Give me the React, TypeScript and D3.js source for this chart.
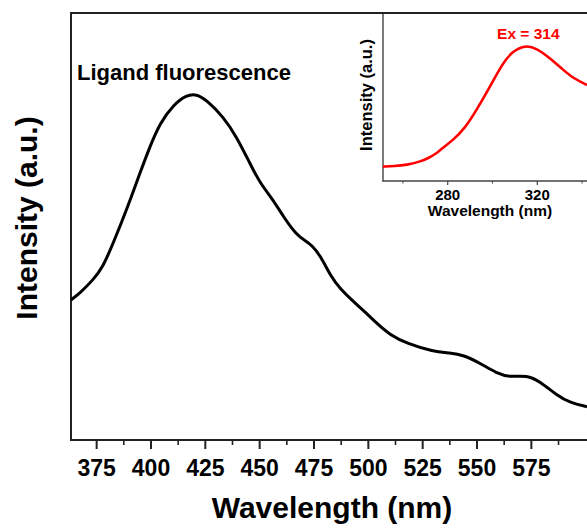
import React from "react";
import * as d3 from "d3";

// Main spectrum: ligand fluorescence (wavelength nm, intensity a.u.)
const mainWavelength = [363.2, 367.3, 373.4, 378.0, 382.6, 388.8, 394.9, 399.5, 404.1, 410.3, 416.4, 421.0, 425.6, 433.3, 439.4, 445.5, 450.2, 456.3, 460.9, 467.0, 471.2, 474.0, 477.8, 483.2, 487.0, 493.1, 498.5, 503.9, 510.0, 517.7, 529.9, 537.6, 543.7, 551.4, 559.1, 565.2, 572.9, 579.0, 586.7, 592.8, 600.6];
const mainIntensity = [32.8, 34.4, 37.5, 40.6, 46.1, 53.9, 62.5, 68.7, 74.2, 78.5, 80.8, 81.0, 79.6, 75.7, 71.0, 64.8, 60.1, 56.2, 52.3, 48.0, 46.6, 45.6, 43.3, 37.9, 35.5, 32.4, 30.0, 27.3, 24.6, 22.6, 20.7, 20.4, 19.9, 18.0, 15.6, 14.7, 15.2, 13.7, 10.5, 8.7, 7.8];

// Inset: excitation spectrum
const insetWavelength = [251.1, 256.0, 261.7, 267.6, 271.3, 275.1, 276.6, 282.5, 287.7, 292.9, 298.9, 304.1, 308.6, 314.5, 319.7, 325.7, 331.6, 336.1, 342.2];
const insetIntensity = [8.6, 8.9, 9.6, 11.6, 13.6, 16.6, 18.6, 24.6, 31.6, 42.5, 56.5, 69.5, 77.4, 81.4, 79.5, 73.5, 66.5, 61.5, 57.5];

const mainMajorTicks = [375, 400, 425, 450, 475, 500, 525, 550, 575];
const mainMinorTicks = [387.5, 412.5, 437.5, 462.5, 487.5, 512.5, 537.5, 562.5, 587.5];
const insetMajorTicks = [280, 320];
const insetMinorTicks = [260, 300, 340];

const FONT = "'Liberation Sans', Arial, Helvetica, sans-serif";

export default function App() {
  const W = 587, H = 529;
  const x = d3.scaleLinear().domain([363.2, 600.6]).range([71, 587]);
  const y = d3.scaleLinear().domain([0, 100]).range([440, 13]);
  const xi = d3.scaleLinear().domain([251.1, 342.2]).range([383, 587]);
  const yi = d3.scaleLinear().domain([0, 100]).range([181, 14]);

  const mainPts = mainWavelength.map((w, i) => [w, mainIntensity[i]] as [number, number]);
  const insetPts = insetWavelength.map((w, i) => [w, insetIntensity[i]] as [number, number]);

  const mainLine = d3.line<[number, number]>().x(d => x(d[0])).y(d => y(d[1])).curve(d3.curveBasis);
  const insetLine = d3.line<[number, number]>().x(d => xi(d[0])).y(d => yi(d[1])).curve(d3.curveBasis);

  const frame = "#222";
  return (
    <svg width={W} height={H} style={{ position: "absolute", left: 0, top: 0, background: "#fff" }} fontFamily={FONT}>
      {/* main frame */}
      <line x1={71} y1={13} x2={W} y2={13} stroke={frame} strokeWidth={2} />
      <line x1={71} y1={12} x2={71} y2={441} stroke={frame} strokeWidth={2} />
      <line x1={70} y1={440} x2={W} y2={440} stroke={frame} strokeWidth={2} />
      {mainMajorTicks.map(t => (
        <line key={"M" + t} x1={x(t)} x2={x(t)} y1={440} y2={449} stroke={frame} strokeWidth={2} />
      ))}
      {mainMinorTicks.map(t => (
        <line key={"m" + t} x1={x(t)} x2={x(t)} y1={440} y2={445} stroke={frame} strokeWidth={1.6} />
      ))}
      {mainMajorTicks.map(t => (
        <text key={"L" + t} x={x(t)} y={476} textAnchor="middle" fontSize={23} fontWeight="bold" fill="#000">{t}</text>
      ))}
      <text x={332} y={518} textAnchor="middle" fontSize={30} fontWeight="bold" fill="#000">Wavelength (nm)</text>
      <text transform="translate(37,218) rotate(-90)" textAnchor="middle" fontSize={30} fontWeight="bold" fill="#000">Intensity (a.u.)</text>
      <text x={77} y={80} fontSize={22} fontWeight="bold" fill="#000">Ligand fluorescence</text>
      <path d={mainLine(mainPts) || ""} fill="none" stroke="#000" strokeWidth={3} strokeLinejoin="round" />

      {/* inset */}
      <line x1={383} y1={14} x2={383} y2={181.6} stroke="#444" strokeWidth={1.4} />
      <line x1={382.4} y1={181} x2={W} y2={181} stroke="#444" strokeWidth={1.4} />
      {insetMajorTicks.map(t => (
        <line key={"IM" + t} x1={xi(t)} x2={xi(t)} y1={181} y2={185} stroke="#444" strokeWidth={1.2} />
      ))}
      {insetMinorTicks.map(t => (
        <line key={"Im" + t} x1={xi(t)} x2={xi(t)} y1={181} y2={183.5} stroke="#444" strokeWidth={1} />
      ))}
      {insetMajorTicks.map(t => (
        <text key={"IL" + t} x={xi(t)} y={200} textAnchor="middle" fontSize={15} fontWeight="bold" fill="#000">{t}</text>
      ))}
      <text x={490} y={216} textAnchor="middle" fontSize={15.5} fontWeight="bold" fill="#000">Wavelength (nm)</text>
      <text transform="translate(372,95) rotate(-90)" textAnchor="middle" fontSize={16.5} fontWeight="bold" fill="#000">Intensity (a.u.)</text>
      <text x={528.3} y={38.5} textAnchor="middle" fontSize={15.5} fontWeight="bold" fill="#ff0000">Ex = 314</text>
      <path d={insetLine(insetPts) || ""} fill="none" stroke="#ff0000" strokeWidth={2.6} strokeLinejoin="round" />
    </svg>
  );
}
